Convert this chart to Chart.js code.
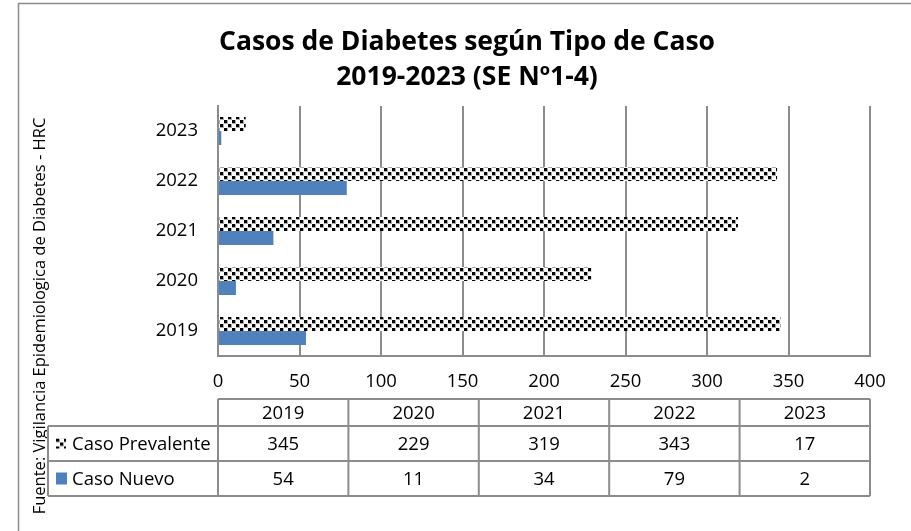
<!DOCTYPE html>
<html>
<head>
<meta charset="utf-8">
<style>
  html, body { margin: 0; padding: 0; background: #fff; }
  #c { display: block; }
</style>
<script src="https://cdn.jsdelivr.net/npm/chart.js@4.4.1/dist/chart.umd.min.js"></script>
</head>
<body>
<canvas id="c" width="911" height="531"></canvas>
<script>
// ---- data ----
const years = ['2019', '2020', '2021', '2022', '2023'];
const seriesNames = ['Caso Prevalente', 'Caso Nuevo'];
const casoPrevalente = [345, 229, 319, 343, 17];
const casoNuevo = [54, 11, 34, 79, 2];
const xTickMin = 0, xTickMax = 400, xTickStep = 50;
const titleLines = ['Casos de Diabetes según Tipo de Caso', '2019-2023 (SE Nº1-4)'];
const sourceText = 'Fuente: Vigilancia Epidemiologica de Diabetes - HRC';

// ---- styles ----
const BLUE = '#4F81BD';
const GRID = '#8c8c8c';
const FONT = "'Open Sans', 'DejaVu Sans', sans-serif";

function makePattern() {
  const t = document.createElement('canvas');
  t.width = 8; t.height = 8;
  const g = t.getContext('2d');
  g.fillStyle = '#fff';
  g.fillRect(0, 0, 8, 8);
  g.fillStyle = '#aaa';
  g.fillRect(0, 0, 4, 4);
  g.fillRect(4, 4, 4, 4);
  g.fillStyle = '#000';
  g.fillRect(0, 0, 3, 3);
  g.fillRect(4, 4, 3, 3);
  return document.getElementById('c').getContext('2d').createPattern(t, 'repeat');
}
const PATTERN = makePattern();

const extras = {
  id: 'extras',
  afterDraw(chart) {
    const ctx = chart.ctx;
    const ca = chart.chartArea;
    ctx.save();
    // outer frame
    ctx.strokeStyle = GRID;
    ctx.lineWidth = 1.5;
    ctx.beginPath();
    ctx.moveTo(18.5, 540);
    ctx.lineTo(18.5, 3.5);
    ctx.lineTo(920, 3.5);
    ctx.stroke();

    // title
    ctx.fillStyle = '#000';
    ctx.textAlign = 'center';
    ctx.textBaseline = 'middle';
    ctx.font = "bold 26.5px 'Open Sans', sans-serif";
    ctx.fillText(titleLines[0], 467, 42);
    ctx.fillText(titleLines[1], 467, 77);

    // source (rotated)
    ctx.save();
    ctx.translate(40, 316);
    ctx.rotate(-Math.PI / 2);
    ctx.font = "16.5px " + FONT;
    ctx.fillText(sourceText, 0, 0);
    ctx.restore();

    // data table
    const top = 399, r1 = 426, r2 = 461, bottom = 496, legLeft = 48;
    const n = years.length;
    const colW = (ca.right - ca.left) / n;
    ctx.strokeStyle = GRID;
    ctx.lineWidth = 2;
    ctx.beginPath();
    ctx.moveTo(ca.left, top); ctx.lineTo(ca.right, top);
    ctx.moveTo(legLeft, r1); ctx.lineTo(ca.right, r1);
    ctx.moveTo(legLeft, r2); ctx.lineTo(ca.right, r2);
    ctx.moveTo(legLeft, bottom); ctx.lineTo(ca.right, bottom);
    ctx.moveTo(legLeft, r1); ctx.lineTo(legLeft, bottom);
    for (let i = 0; i <= n; i++) {
      const x = ca.left + i * colW;
      ctx.moveTo(x, top); ctx.lineTo(x, bottom);
    }
    ctx.stroke();

    ctx.font = "18.5px " + FONT;
    ctx.fillStyle = '#000';
    ctx.textAlign = 'center';
    const rowsData = [casoPrevalente, casoNuevo];
    for (let i = 0; i < n; i++) {
      const cx = ca.left + (i + 0.5) * colW;
      ctx.fillText(years[i], cx, (top + r1) / 2 + 1);
      ctx.fillText(String(rowsData[0][i]), cx, (r1 + r2) / 2 + 1);
      ctx.fillText(String(rowsData[1][i]), cx, (r2 + bottom) / 2 + 1);
    }
    // legend cells
    ctx.textAlign = 'left';
    const ys = [(r1 + r2) / 2, (r2 + bottom) / 2];
    ctx.fillStyle = PATTERN;
    ctx.save();
    ctx.translate(56, ys[0] - 5);
    ctx.fillRect(0, 0, 10, 10);
    ctx.restore();
    ctx.fillStyle = BLUE;
    ctx.fillRect(56, ys[1] - 6, 11, 12);
    ctx.fillStyle = '#000';
    ctx.fillText(seriesNames[0], 72, ys[0] + 1);
    ctx.fillText(seriesNames[1], 72, ys[1] + 1);
    ctx.restore();
  }
};

new Chart(document.getElementById('c'), {
  type: 'bar',
  data: {
    labels: years,
    datasets: [
      { label: seriesNames[0], data: casoPrevalente, backgroundColor: PATTERN, borderWidth: 0 },
      { label: seriesNames[1], data: casoNuevo, backgroundColor: BLUE, borderWidth: 0 }
    ]
  },
  plugins: [extras],
  options: {
    indexAxis: 'y',
    responsive: false,
    animation: false,
    devicePixelRatio: 1,
    datasets: { bar: { categoryPercentage: 0.56, barPercentage: 1.0 } },
    layout: { padding: { left: 0, top: 106, right: 41, bottom: 135 } },
    plugins: { legend: { display: false }, tooltip: { enabled: false }, title: { display: false } },
    scales: {
      x: {
        min: xTickMin, max: xTickMax,
        ticks: { stepSize: xTickStep, color: '#000', font: { family: FONT, size: 18.5 }, padding: 15 },
        grid: { color: GRID, lineWidth: 2, drawTicks: false },
        border: { color: GRID, width: 2 },
        afterFit(s) { s.height = 40; }
      },
      y: {
        reverse: true,
        ticks: { color: '#000', font: { family: FONT, size: 18.5 }, padding: 20 },
        grid: { display: false, drawTicks: false },
        border: { color: GRID, width: 2 },
        afterFit(s) { s.width = 218; }
      }
    }
  }
});
</script>
</body>
</html>
